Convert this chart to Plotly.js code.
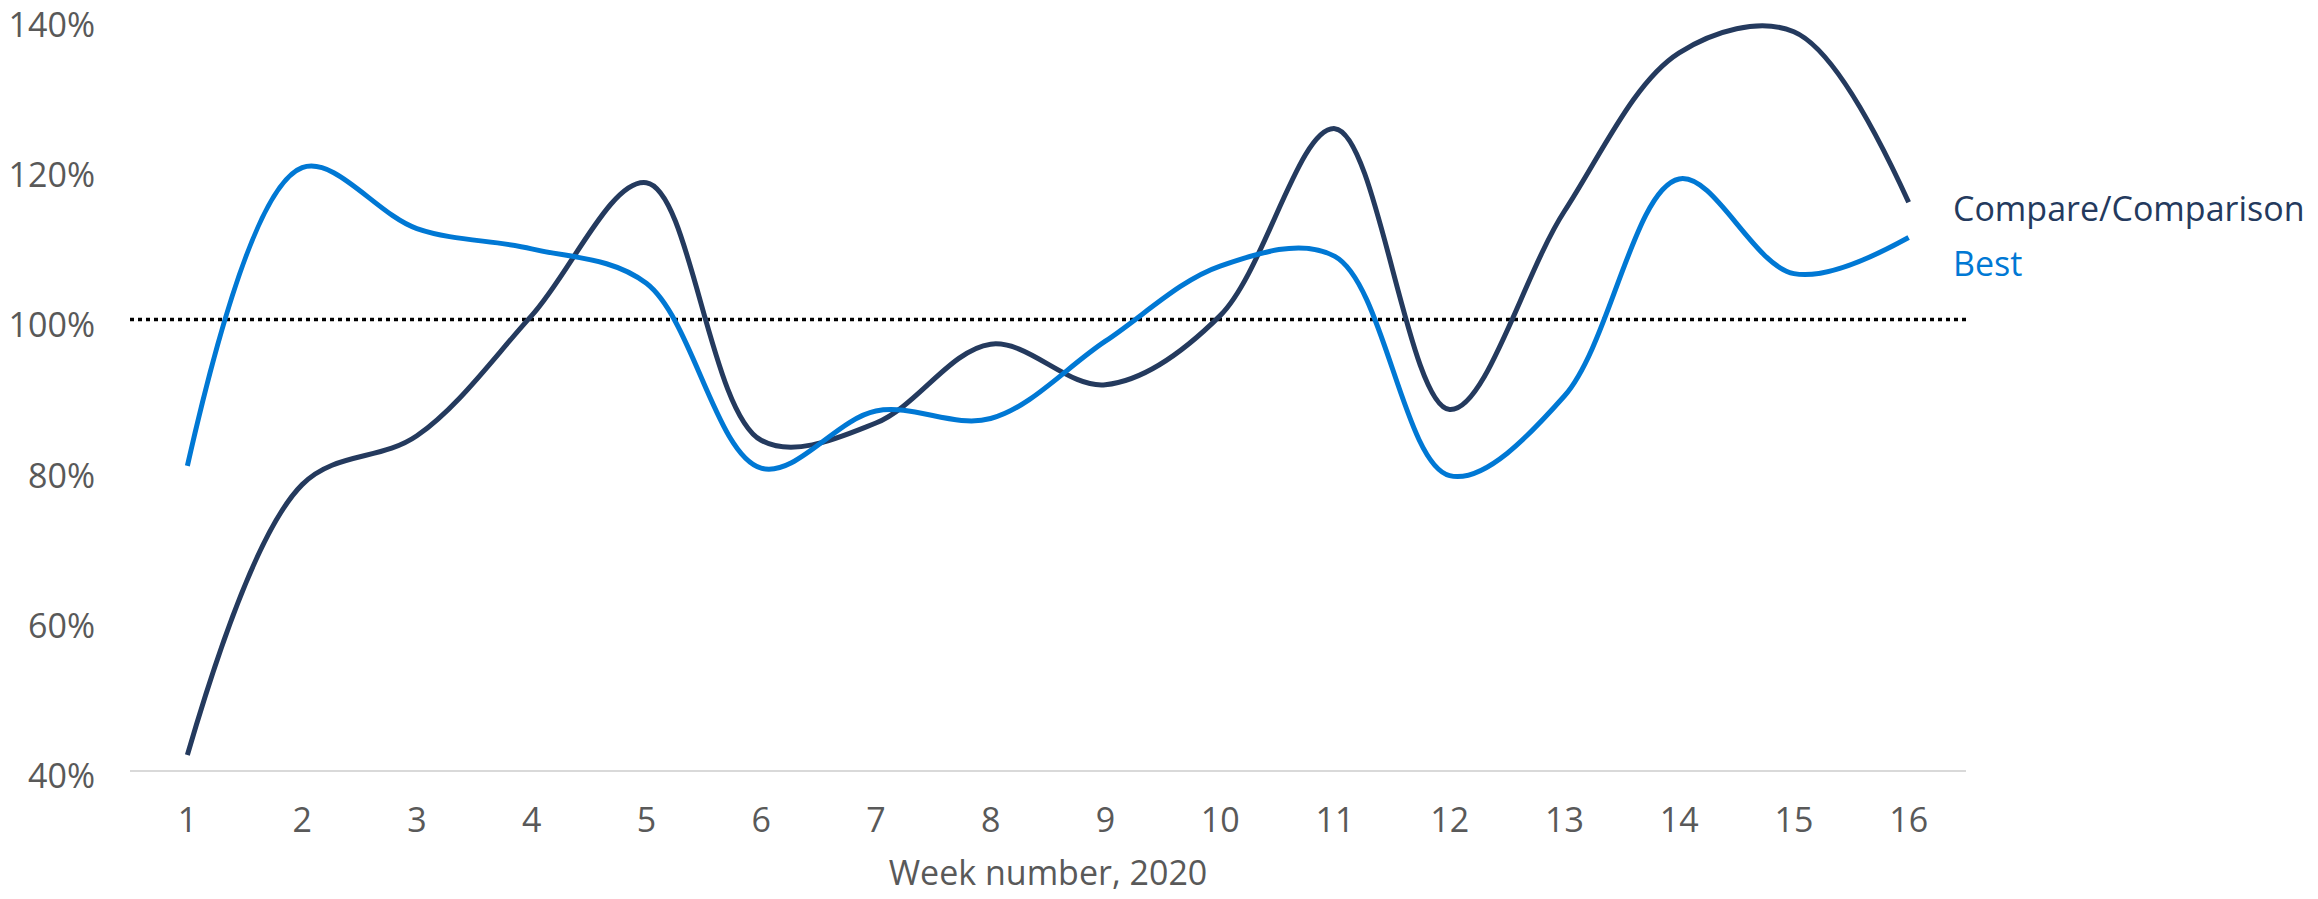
<!DOCTYPE html>
<html>
<head>
<meta charset="utf-8">
<script src="https://cdn.plot.ly/plotly-3.0.1.min.js"></script>
<style>
  html, body { margin: 0; padding: 0; background: #ffffff; }
  #chart { width: 2318px; height: 899px; }
</style>
</head>
<body>
<div id="chart"></div>
<script>
// ---- Data ----
const weeks = [1, 2, 3, 4, 5, 6, 7, 8, 9, 10, 11, 12, 13, 14, 15, 16];
const compareValues = [42, 78, 84.5, 100.5, 118.2, 83.9, 86.2, 96.7, 91.3, 100.5, 125.4, 88, 114.4, 135.5, 138.3, 115.6];
const bestValues = [80.5, 120.2, 112.1, 109.4, 104.8, 80.2, 87.8, 86.8, 97.1, 107.1, 108.4, 79.2, 89.8, 118.7, 106.1, 110.9];
const yTickValues = [40, 60, 80, 100, 120, 140];
const yTickLabels = ["40%", "60%", "80%", "100%", "120%", "140%"];
const referenceLevel = 100;
const seriesNames = ["Compare/Comparison", "Best"];
const xAxisTitle = "Week number, 2020";

// ---- Styles ----
const darkColor = "#243A5E";
const blueColor = "#0078D4";
const textGray = "#595959";
const fontFamily = "'Segoe UI', 'Open Sans', 'Noto Sans', sans-serif";
const fs = 34;

const traces = [
  {
    x: weeks, y: compareValues, name: seriesNames[0], type: "scatter", mode: "lines",
    line: { color: darkColor, width: 5, shape: "spline", smoothing: 1 },
    hoverinfo: "skip"
  },
  {
    x: weeks, y: bestValues, name: seriesNames[1], type: "scatter", mode: "lines",
    line: { color: blueColor, width: 5, shape: "spline", smoothing: 1 },
    hoverinfo: "skip"
  }
];

const lastIdx = weeks.length - 1;

const layout = {
  width: 2318,
  height: 899,
  margin: { l: 130, r: 352, t: 19, b: 129 },
  paper_bgcolor: "#ffffff",
  plot_bgcolor: "#ffffff",
  showlegend: false,
  font: { family: fontFamily, color: textGray, size: fs },
  xaxis: {
    range: [0.5, 16.5],
    tickvals: weeks,
    ticktext: weeks.map(String),
    showgrid: false,
    zeroline: false,
    showline: true,
    linecolor: "#D9D9D9",
    linewidth: 2,
    ticks: "",
    ticklabelstandoff: 19,
    tickfont: { family: fontFamily, color: textGray, size: fs },
    title: { text: xAxisTitle, font: { family: fontFamily, color: textGray, size: fs }, standoff: 20 }
  },
  yaxis: {
    range: [40, 140],
    tickvals: yTickValues,
    ticktext: yTickLabels,
    showgrid: false,
    zeroline: false,
    showline: false,
    ticks: "",
    ticklabelstandoff: 34,
    ticklabelshift: 6,
    ticklabeloverflow: "allow",
    tickfont: { family: fontFamily, color: textGray, size: fs }
  },
  shapes: [
    {
      type: "line", xref: "paper", x0: 0, x1: 1, yref: "y", y0: referenceLevel, y1: referenceLevel,
      line: { color: "#000000", width: 3.5, dash: "4px,4px" }, layer: "below"
    }
  ],
  annotations: [
    {
      xref: "x", yref: "y", x: weeks[lastIdx], y: compareValues[lastIdx],
      xanchor: "left", yanchor: "middle", xshift: 42, yshift: -6,
      text: seriesNames[0], showarrow: false,
      font: { family: fontFamily, color: darkColor, size: fs }
    },
    {
      xref: "x", yref: "y", x: weeks[lastIdx], y: bestValues[lastIdx],
      xanchor: "left", yanchor: "middle", xshift: 42, yshift: -25,
      text: seriesNames[1], showarrow: false,
      font: { family: fontFamily, color: blueColor, size: fs }
    }
  ]
};

Plotly.newPlot("chart", traces, layout, { displayModeBar: false, staticPlot: true });
</script>
</body>
</html>
